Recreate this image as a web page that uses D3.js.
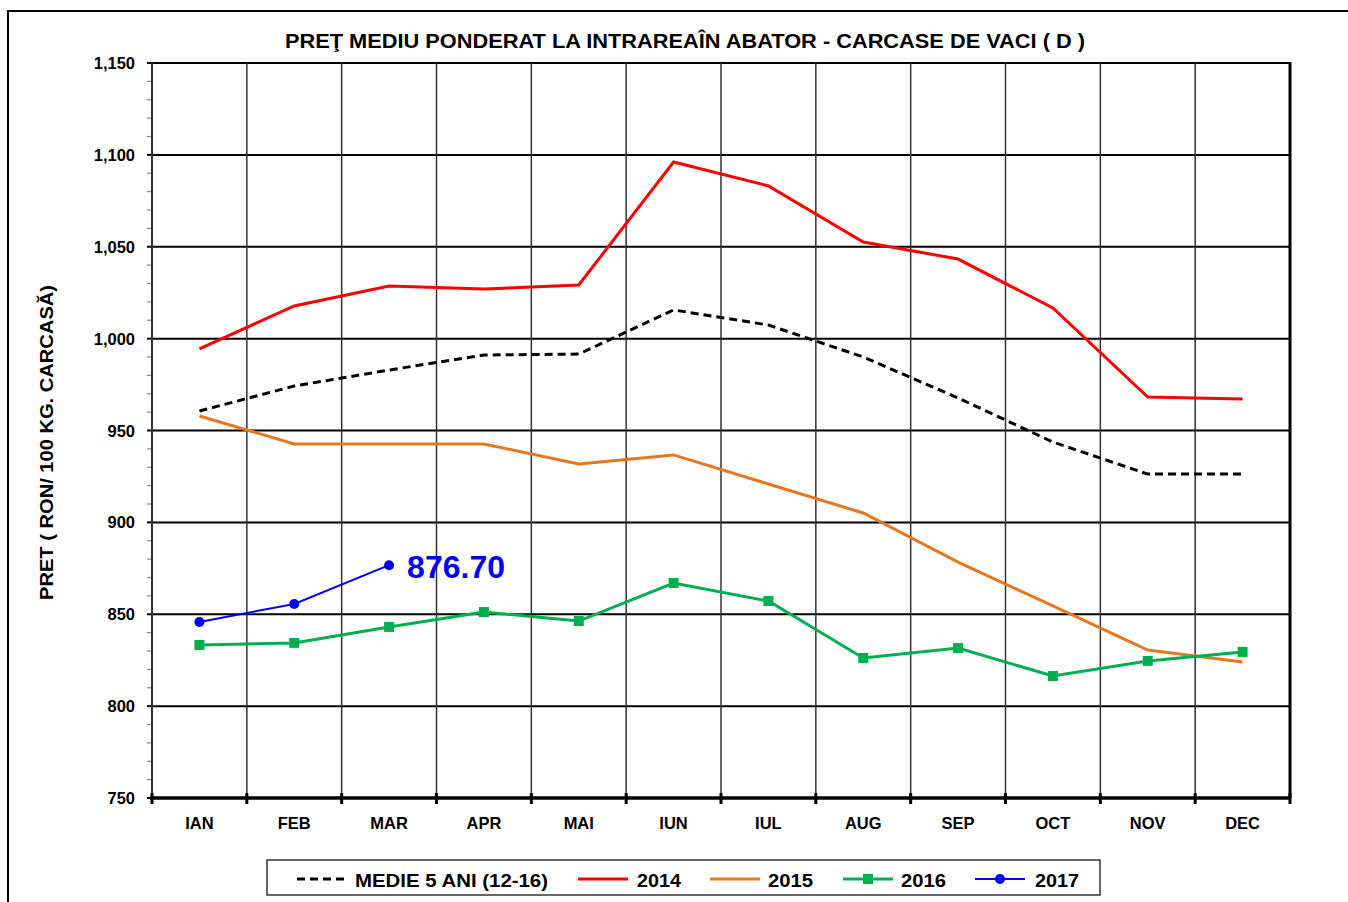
<!DOCTYPE html>
<html><head><meta charset="utf-8">
<script src="https://cdn.jsdelivr.net/npm/d3@7/dist/d3.min.js"></script>
<style>body{margin:0;background:#fff}svg{display:block}text{font-family:"Liberation Sans",Arial,sans-serif;font-weight:bold}</style>
</head><body><svg id="c" width="1348" height="902"></svg>
<script>
const months = ["IAN","FEB","MAR","APR","MAI","IUN","IUL","AUG","SEP","OCT","NOV","DEC"];
const yTicks = [750,800,850,900,950,1000,1050,1100,1150];
const medie = [960.6,974.2,982.9,991.1,991.6,1015.6,1007.4,990.0,967.7,943.7,926.3,926.3];
const y2014 = [994.4,1017.8,1028.6,1027.0,1029.2,1096.1,1083.1,1052.6,1043.3,1016.7,968.2,967.1];
const y2015 = [957.9,942.7,942.7,942.7,931.8,936.7,920.9,905.1,878.4,854.5,830.5,824.0];
const y2016 = [833.3,834.4,843.1,851.2,846.3,867.0,857.2,826.2,831.6,816.4,824.6,829.5];
const y2017 = [845.8,855.6,876.7];
const title = "PREŢ MEDIU PONDERAT LA INTRAREAÎN ABATOR - CARCASE DE VACI ( D )";
const yLabel = "PRET ( RON/ 100 KG. CARCASĂ)";
const lastLabel = "876.70";

const svg = d3.select("#c");
const L=152, R=1290, T=63, B=798;
const x = d3.scaleBand().domain(months).range([L,R]);
const y = d3.scaleLinear().domain([750,1150]).range([B,T]);

// outer frame
svg.append("rect").attr("x",8).attr("y",11).attr("width",1400).attr("height",1000)
  .attr("fill","none").attr("stroke","#000").attr("stroke-width",2);

// title
svg.append("text").attr("x",685).attr("y",48).attr("text-anchor","middle")
  .attr("font-size",21).attr("textLength",800).attr("lengthAdjust","spacingAndGlyphs").text(title);

// minor y ticks
const minor = d3.range(750,1151,10);
svg.append("g").selectAll("line").data(minor).join("line")
  .attr("x1",147).attr("x2",L).attr("y1",d=>y(d)).attr("y2",d=>y(d))
  .attr("stroke",d=>d%50===0?"#000":"#888").attr("stroke-width",d=>d%50===0?2:1.2);

// horizontal gridlines
svg.append("g").selectAll("line").data(yTicks.filter(d=>d>750)).join("line")
  .attr("x1",L).attr("x2",R).attr("y1",d=>y(d)).attr("y2",d=>y(d))
  .attr("stroke","#000").attr("stroke-width",2);

// vertical gridlines
const bounds = months.slice(1).map(m=>x(m));
svg.append("g").selectAll("line").data(bounds).join("line")
  .attr("x1",d=>d).attr("x2",d=>d).attr("y1",T).attr("y2",B)
  .attr("stroke","#333").attr("stroke-width",1.5);

// y axis line
svg.append("line").attr("x1",L).attr("x2",L).attr("y1",T).attr("y2",B).attr("stroke","#333").attr("stroke-width",2);
// right border
svg.append("line").attr("x1",R).attr("x2",R).attr("y1",T-1).attr("y2",B).attr("stroke","#000").attr("stroke-width",3);

// y tick labels
svg.append("g").selectAll("text").data(yTicks).join("text")
  .attr("x",135).attr("y",d=>y(d)+6).attr("text-anchor","end").attr("font-size",16.5)
  .text(d3.format(","));

// x axis line and ticks
svg.append("line").attr("x1",L-2).attr("x2",R+1).attr("y1",B).attr("y2",B).attr("stroke","#000").attr("stroke-width",3.5);
const allB = [L, ...bounds, R];
svg.append("g").selectAll("line").data(allB).join("line")
  .attr("x1",d=>d).attr("x2",d=>d).attr("y1",B-5).attr("y2",B+6)
  .attr("stroke","#000").attr("stroke-width",3);
svg.append("g").selectAll("text").data(months).join("text")
  .attr("x",d=>x(d)+x.bandwidth()/2).attr("y",829).attr("text-anchor","middle").attr("font-size",16.5)
  .text(d=>d);

// y label
svg.append("text").attr("transform","translate(53,442.5) rotate(-90)").attr("text-anchor","middle")
  .attr("font-size",19).attr("textLength",315).attr("lengthAdjust","spacingAndGlyphs").text(yLabel);

const cx = (d,i)=>x(months[i])+x.bandwidth()/2;
const line = d3.line().x(cx).y(d=>y(d));
svg.append("path").datum(medie).attr("d",line).attr("fill","none").attr("stroke","#000").attr("stroke-width",3).attr("stroke-dasharray","8,5");
svg.append("path").datum(y2014).attr("d",line).attr("fill","none").attr("stroke","#FF0000").attr("stroke-width",3);
svg.append("path").datum(y2015).attr("d",line).attr("fill","none").attr("stroke","#E8761E").attr("stroke-width",3);
svg.append("path").datum(y2016).attr("d",line).attr("fill","none").attr("stroke","#00B050").attr("stroke-width",3);
svg.append("g").selectAll("rect").data(y2016).join("rect")
  .attr("x",(d,i)=>cx(d,i)-5).attr("y",d=>y(d)-5).attr("width",10).attr("height",10).attr("fill","#00B050");
svg.append("path").datum(y2017).attr("d",line).attr("fill","none").attr("stroke","#0000FF").attr("stroke-width",2);
svg.append("g").selectAll("circle").data(y2017).join("circle")
  .attr("cx",cx).attr("cy",d=>y(d)).attr("r",5).attr("fill","#0000FF");
svg.append("text").attr("x",cx(0,2)+18).attr("y",y(y2017[2])+13).attr("font-size",31)
  .attr("textLength",98).attr("lengthAdjust","spacingAndGlyphs").attr("fill","#0000FF").text(lastLabel);

// legend
const lg = svg.append("g");
lg.append("rect").attr("x",267).attr("y",860).attr("width",833).attr("height",35).attr("fill","#fff").attr("stroke","#000").attr("stroke-width",1.2);
const items = [
 {name:"MEDIE 5 ANI (12-16)", color:"#000", dash:"8,5", x1:297, tx:355, w:193},
 {name:"2014", color:"#FF0000", x1:578, tx:637, w:44},
 {name:"2015", color:"#E8761E", x1:710, tx:768, w:45},
 {name:"2016", color:"#00B050", marker:"sq", x1:843, tx:901, w:45},
 {name:"2017", color:"#0000FF", marker:"ci", x1:975, tx:1035, w:44}
];
items.forEach(it=>{
  lg.append("line").attr("x1",it.x1).attr("x2",it.x1+50).attr("y1",879).attr("y2",879)
    .attr("stroke",it.color).attr("stroke-width",it.marker==="ci"?2:3).attr("stroke-dasharray",it.dash||null);
  if(it.marker==="sq") lg.append("rect").attr("x",it.x1+20).attr("y",874).attr("width",10).attr("height",10).attr("fill",it.color);
  if(it.marker==="ci") lg.append("circle").attr("cx",it.x1+25).attr("cy",879).attr("r",5).attr("fill",it.color);
  lg.append("text").attr("x",it.tx).attr("y",887).attr("font-size",18).attr("textLength",it.w).attr("lengthAdjust","spacingAndGlyphs").text(it.name);
});
</script></body></html>
